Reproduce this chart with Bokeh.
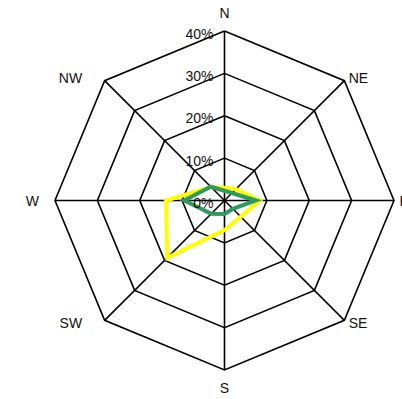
import numpy as np
from bokeh.plotting import figure
from bokeh.models import ColumnDataSource, Range1d
from bokeh.embed import file_html
from bokeh.resources import INLINE
from bokeh.core.properties import value

# ---- data ----
directions = ["N", "NE", "E", "SE", "S", "SW", "W", "NW"]
ring_levels = [10, 20, 30, 40]
ring_labels = ["0%", "10%", "20%", "30%", "40%"]
series_yellow = [3.0, 3.8, 8.3, 5.4, 7.0, 19.1, 13.8, 4.5]
series_green = [2.3, 2.5, 7.4, 2.8, 3.2, 4.4, 9.5, 4.6]

angles = np.deg2rad(np.arange(len(directions)) * 45.0)
sx, sy = np.sin(angles), np.cos(angles)

scale = 169.5 / 40.0  # px per unit
W, H = 402, 399
cx, cy = 224, 200
p = figure(width=W, height=H, output_backend="svg", toolbar_location=None,
           x_range=Range1d(-cx / scale, (W - cx) / scale),
           y_range=Range1d(-(H - cy) / scale, cy / scale),
           min_border=0)
p.axis.visible = False
p.grid.visible = False
p.outline_line_color = None
p.background_fill_color = "white"
p.border_fill_color = "white"

# rings
for r in ring_levels:
    xs = list(r * sx) + [r * sx[0]]
    ys = list(r * sy) + [r * sy[0]]
    p.line(xs, ys, line_color="black", line_width=1.6, line_join="miter")

# spokes
rmax = ring_levels[-1]
p.segment(x0=[0] * 8, y0=[0] * 8, x1=list(rmax * sx), y1=list(rmax * sy),
          line_color="black", line_width=1.6)

# data series
def closed(vals):
    v = np.array(vals)
    xs = list(v * sx) + [v[0] * sx[0]]
    ys = list(v * sy) + [v[0] * sy[0]]
    return xs, ys

xs, ys = closed(series_yellow)
p.line(xs, ys, line_color="#ffff00", line_width=4, line_join="miter")
xs, ys = closed(series_green)
p.line(xs, ys, line_color="#2f9a5e", line_width=4, line_join="miter")

# radial labels
font = value("Liberation Sans")
p.text(x=[0] * 5, y=[0] + ring_levels, text=ring_labels, text_align="right",
       text_baseline="middle", x_offset=-11, y_offset=2.5,
       text_font=font, text_font_size="14px", text_color="#111111")

# compass labels (placement per side)
lab_x, lab_y, lab_al = [], [], []
for i, d in enumerate(directions):
    if d in ("N", "S"):
        lab_x.append(0.0)
        lab_y.append(44.2 * sy[i])
        lab_al.append("center")
    elif d == "E":
        lab_x.append(41.3)
        lab_y.append(0.0)
        lab_al.append("left")
    elif d == "W":
        lab_x.append(-43.8)
        lab_y.append(0.0)
        lab_al.append("right")
    elif d in ("NE", "SE"):
        lab_x.append(29.3)
        lab_y.append(29.0 * np.sign(sy[i]))
        lab_al.append("left")
    else:
        lab_x.append(-33.6)
        lab_y.append(29.0 * np.sign(sy[i]))
        lab_al.append("right")
src = ColumnDataSource(dict(x=lab_x, y=lab_y, t=directions, a=lab_al))
p.text(x="x", y="y", text="t", text_align="a", text_baseline="middle",
       text_font=font, text_font_size="14px", text_color="#111111", source=src)

open("out.html", "w").write(file_html(p, INLINE))
